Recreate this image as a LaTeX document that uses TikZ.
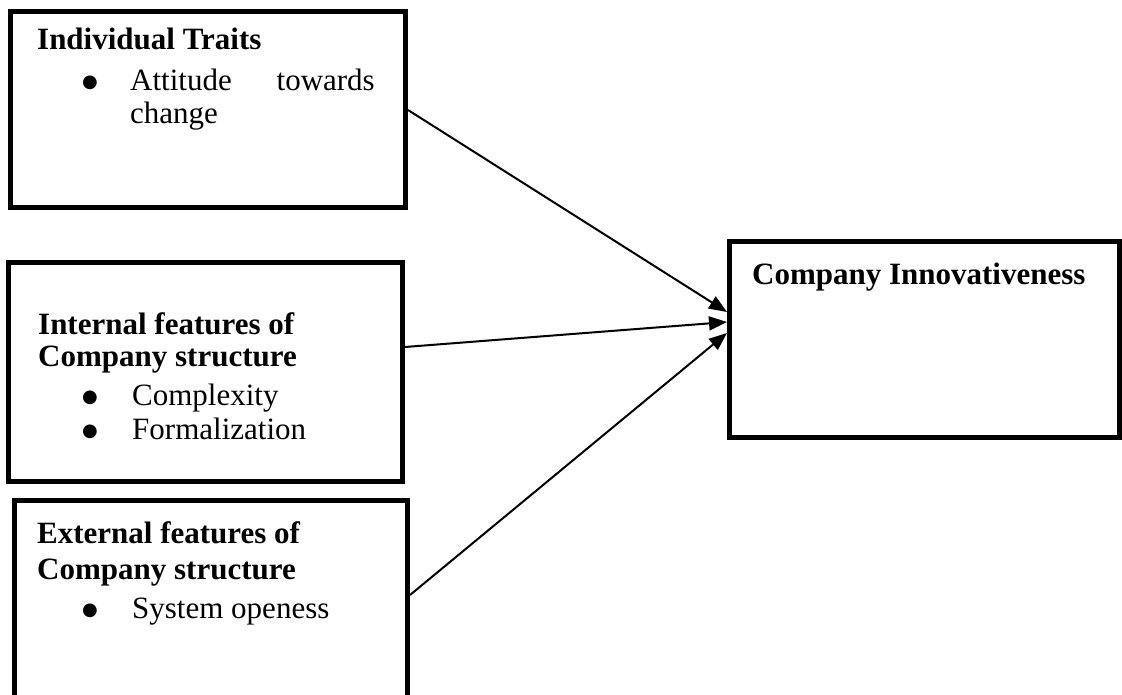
\documentclass[tikz,border=0pt]{standalone}
\usepackage{fontspec}
\setmainfont{Liberation Serif}
\newfontfamily\bulfont{DejaVu Sans}
\usetikzlibrary{arrows.meta,calc}
\begin{document}
\begin{tikzpicture}[x=1pt,y=-1pt,
  box/.style={draw=black, line width=5pt, outer sep=0pt, inner sep=0pt, anchor=north west, rectangle},
  lbl/.style={anchor=base west, inner sep=0pt, font=\fontsize{31}{37}\selectfont},
  lble/.style={anchor=base east, inner sep=0pt, font=\fontsize{31}{37}\selectfont},
  hd/.style={anchor=base west, inner sep=0pt, font=\fontsize{31}{37}\selectfont\bfseries},
  bul/.style={anchor=base, inner sep=0pt, yshift=3pt, font=\bulfont\fontsize{18}{18}\selectfont},
  arr/.style={line width=2pt, -{Triangle[length=18pt,width=14pt]}}]
\useasboundingbox (0,0) rectangle (1122,695);
\clip (0,0) rectangle (1122,695);
% boxes
\node[box, minimum width=394.5pt, minimum height=196.5pt] (b1) at (10.5,11.5) {};
\node[box, minimum width=394pt, minimum height=218.5pt] (b2) at (8.5,262.5) {};
\node[box, minimum width=393pt, minimum height=230pt] (b3) at (14.5,500.5) {};
\node[box, minimum width=390.5pt, minimum height=195.5pt] (b4) at (729,241.5) {};
% texts box 1
\node[hd] (t1) at (37,50) {Individual Traits};
\node[bul] (t1b) at (90,91) {●};
\node[lbl] (t1a) at (130,91) {Attitude};
\node[lble] (t1c) at (375,91) {towards};
\node[lbl] (t1d) at (130,124) {change};
% texts box 2
\node[hd] (t2) at (38,334) {Internal features of};
\node[hd] (t2a) at (38,366) {Company structure};
\node[bul] (t2b) at (90,405) {●};
\node[lbl] (t2c) at (132,405) {Complexity};
\node[bul] (t2d) at (90,439) {●};
\node[lbl] (t2e) at (132,439) {Formalization};
% texts box 3
\node[hd] (t3) at (37,543) {External features of};
\node[hd] (t3a) at (37,579) {Company structure};
\node[bul] (t3b) at (90,618) {●};
\node[lbl] (t3c) at (132,618) {System openess};
% text box 4
\node[hd] (t4) at (752,284) {Company Innovativeness};
% arrows
\draw[arr] ($(b1.north east)+(3,98.5)$) -- ($(b4.north west)+(-2,70.5)$);
\draw[arr] ($(b2.north east)+(2.5,84.5)$) -- ($(b4.north west)+(-2,80.5)$);
\draw[arr] ($(b3.north east)+(2.5,94.5)$) -- ($(b4.north west)+(-2,91.5)$);
\end{tikzpicture}
\end{document}
